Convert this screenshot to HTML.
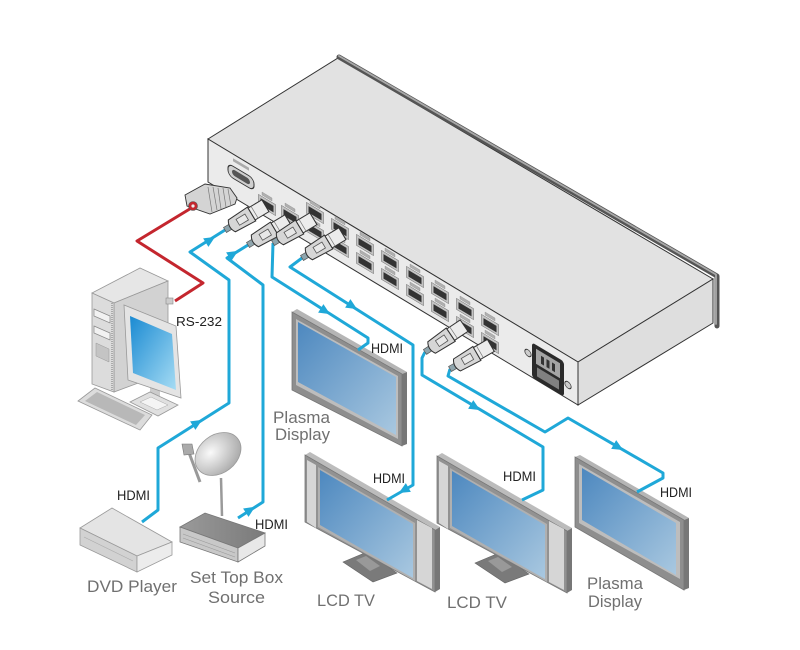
<!DOCTYPE html>
<html><head><meta charset="utf-8"><style>
html,body{margin:0;padding:0;background:#fff;}
svg{display:block;}
text{font-family:"Liberation Sans",sans-serif;}
</style></head><body>
<svg width="800" height="650" viewBox="0 0 800 650" xmlns="http://www.w3.org/2000/svg">
<defs>
<linearGradient id="scr" x1="0" y1="0" x2="1" y2="1"><stop offset="0" stop-color="#4d88bf"/><stop offset="1" stop-color="#a9c8e0"/></linearGradient>
<linearGradient id="mon" x1="0" y1="0" x2="1" y2="1"><stop offset="0" stop-color="#1a8ad2"/><stop offset="1" stop-color="#a6dcf4"/></linearGradient>
<radialGradient id="dish" cx="0.4" cy="0.35" r="0.7"><stop offset="0" stop-color="#fafafa"/><stop offset="1" stop-color="#a8a8a8"/></radialGradient>
<linearGradient id="stb" x1="0" y1="0" x2="1" y2="0"><stop offset="0" stop-color="#9a9a9a"/><stop offset="1" stop-color="#7a7a7a"/></linearGradient>
<g id="port"><rect x="-8.5" y="-5.5" width="17" height="11" fill="#c4c4c4" stroke="#666" stroke-width="0.5"/><rect x="-6.5" y="-3" width="13" height="6.5" fill="#333"/><rect x="-5" y="-10" width="10" height="3" fill="#b0b0b0" stroke="#888" stroke-width="0.3"/></g>
<g id="plug">
<rect x="0" y="-2.5" width="8" height="5" fill="#8fa5ad" stroke="#555" stroke-width="0.6"/>
<path d="M7,-6 L27,-7 L27,7 L7,6 Q3,0 7,-6Z" fill="#d6d6d6" stroke="#333" stroke-width="0.9"/>
<rect x="13" y="-3" width="9" height="6" fill="#e8e8e8" stroke="#555" stroke-width="0.7"/>
<rect x="27" y="-6" width="14" height="12" fill="#ececec" stroke="#333" stroke-width="0.9"/>
<line x1="30" y1="-6" x2="30" y2="6" stroke="#777" stroke-width="0.6"/>
</g>
<polygon id="arr" points="6,0 -5,-5 -5,5" fill="#1fa8d8"/>
</defs>

<!-- Main box -->
<polygon points="208,139 338,58 713,279 578,362" fill="#e2e2e2" stroke="#333" stroke-width="1"/>
<polygon points="208,139 578,362 578,405 208,182" fill="#ebebeb" stroke="#333" stroke-width="1"/>
<polygon points="578,362 713,279 713,323 578,405" fill="#dedede" stroke="#333" stroke-width="1"/>
<polyline points="339,57 717,276 717,326" fill="none" stroke="#555" stroke-width="5" stroke-linecap="round" stroke-linejoin="round"/>
<polyline points="339,56 716,274.5 716,324" fill="none" stroke="#a8a8a8" stroke-width="1.8" stroke-linecap="round" stroke-linejoin="round"/>

<!-- panel DB9 -->
<g transform="translate(241,177) skewY(31)">
<rect x="-13" y="-6" width="26" height="12" rx="5" fill="#cfcfcf" stroke="#333" stroke-width="1"/>
<rect x="-9" y="-3" width="18" height="6" rx="3" fill="#555"/>
<rect x="-8" y="-14" width="16" height="3" fill="#aaa"/>
</g>

<!-- ports -->
<use href="#port" transform="translate(267,205) skewY(31)"/>
<use href="#port" transform="translate(290,216) skewY(31)"/>
<use href="#port" transform="translate(315,213) skewY(31)"/><use href="#port" transform="translate(315,231) skewY(31)"/>
<use href="#port" transform="translate(340,229) skewY(31)"/><use href="#port" transform="translate(340,247) skewY(31)"/>
<use href="#port" transform="translate(365,245) skewY(31)"/><use href="#port" transform="translate(365,263) skewY(31)"/>
<use href="#port" transform="translate(390,261) skewY(31)"/><use href="#port" transform="translate(390,279) skewY(31)"/>
<use href="#port" transform="translate(415,277) skewY(31)"/><use href="#port" transform="translate(415,295) skewY(31)"/>
<use href="#port" transform="translate(440,293) skewY(31)"/><use href="#port" transform="translate(440,311) skewY(31)"/>
<use href="#port" transform="translate(465,309) skewY(31)"/><use href="#port" transform="translate(465,327) skewY(31)"/>
<use href="#port" transform="translate(490,325) skewY(31)"/><use href="#port" transform="translate(490,343) skewY(31)"/>

<!-- power socket -->
<g transform="translate(548,369) skewY(31)">
<circle cx="-20" cy="-4" r="3.2" fill="#ccc" stroke="#333" stroke-width="0.8"/>
<circle cx="20" cy="4" r="3.2" fill="#ccc" stroke="#333" stroke-width="0.8"/>
<rect x="-16" y="-17" width="32" height="35" rx="3" fill="#2a2a2a"/>
<rect x="-12" y="-13" width="24" height="15" fill="#a5a5a5"/>
<rect x="-7" y="-9" width="3" height="8" fill="#333"/><rect x="-1.5" y="-9" width="3" height="8" fill="#333"/><rect x="4" y="-9" width="3" height="8" fill="#333"/>
<rect x="-11" y="5" width="22" height="9" fill="#808080"/>
</g>

<!-- Displays -->
<!-- Plasma 1 -->
<polygon points="292,312 297,309 407,372 402,374" fill="#b5b5b5"/>
<polygon points="402,374 407,372 407,444 402,446" fill="#777"/>
<polygon points="292,312 402,374 402,446 292,390" fill="#8e8e8e" stroke="#777" stroke-width="0.8"/>
<polygon points="296,319 398,376 398,439 296,385" fill="#bdbdbd"/>
<polygon points="298,322 396,377 396,435 298,382" fill="url(#scr)"/>
<!-- LCD TV 1 -->
<g>
<polygon points="343,562 367,552 397,573 373,582" fill="#7a7a7a" stroke="#666" stroke-width="0.6"/>
<polygon points="356,560 366,556 380,566 370,571" fill="#999"/>
<polygon points="305,455 310,452 440,527 435,530" fill="#bcbcbc"/>
<polygon points="435,530 440,527 440,589 435,592" fill="#777"/>
<polygon points="305,455 435,530 435,592 305,522" fill="#929292" stroke="#777" stroke-width="0.8"/>
<polygon points="307,460 316,465 316,528 307,522" fill="#d6d6d6"/>
<polygon points="417,520 432,528 432,589 417,581" fill="#d6d6d6"/>
<polygon points="318,467 415,523 415,581 318,527" fill="#b0b0b0"/>
<polygon points="320,470 413,524 413,578 320,525" fill="url(#scr)"/>
</g>
<!-- LCD TV 2 -->
<g transform="translate(132,1)">
<polygon points="343,562 367,552 397,573 373,582" fill="#7a7a7a" stroke="#666" stroke-width="0.6"/>
<polygon points="356,560 366,556 380,566 370,571" fill="#999"/>
<polygon points="305,455 310,452 440,527 435,530" fill="#bcbcbc"/>
<polygon points="435,530 440,527 440,589 435,592" fill="#777"/>
<polygon points="305,455 435,530 435,592 305,522" fill="#929292" stroke="#777" stroke-width="0.8"/>
<polygon points="307,460 316,465 316,528 307,522" fill="#d6d6d6"/>
<polygon points="417,520 432,528 432,589 417,581" fill="#d6d6d6"/>
<polygon points="318,467 415,523 415,581 318,527" fill="#b0b0b0"/>
<polygon points="320,470 413,524 413,578 320,525" fill="url(#scr)"/>
</g>
<!-- Plasma 2 -->
<polygon points="575,457 580,455 689,518 684,520" fill="#b5b5b5"/>
<polygon points="684,520 689,518 689,588 684,590" fill="#777"/>
<polygon points="575,457 684,520 684,590 575,527" fill="#8e8e8e" stroke="#777" stroke-width="0.8"/>
<polygon points="579,464 680,522 680,579 579,523" fill="#bdbdbd"/>
<polygon points="582,468 676,523 676,575 582,520" fill="url(#scr)"/>

<!-- Computer -->
<polygon points="92,293 140,268 168,281 114,303" fill="#e6e6e6" stroke="#999" stroke-width="0.8"/>
<polygon points="114,303 168,281 168,372 114,392" fill="#d2d2d2" stroke="#999" stroke-width="0.8"/>
<polygon points="92,293 114,303 114,392 92,384" fill="#dcdcdc" stroke="#999" stroke-width="0.8"/>
<polygon points="94,309 110,316 110,323 94,316" fill="#f2f2f2" stroke="#888" stroke-width="0.7"/>
<polygon points="94,326 110,333 110,340 94,333" fill="#f2f2f2" stroke="#888" stroke-width="0.7"/>
<polygon points="96,343 109,349 109,362 96,356" fill="#c4c4c4" stroke="#999" stroke-width="0.5"/>
<line x1="112" y1="303" x2="112" y2="391" stroke="#aaa" stroke-width="2" stroke-dasharray="1 1"/>
<polygon points="78,401 95,388 152,415 140,430" fill="#dcdcdc" stroke="#999" stroke-width="0.8"/>
<polygon points="85,401 97,392 145,415 136,425" fill="#b8b8b8"/>
<polygon points="150,386 160,390 160,400 150,397" fill="#ccc"/>
<polygon points="130,402 150,392 178,405 158,416" fill="#e0e0e0" stroke="#999" stroke-width="0.8"/>
<polygon points="140,402 151,397 168,405 157,410" fill="#f4f4f4" stroke="#aaa" stroke-width="0.5"/>
<polygon points="124,305 176,326 181,398 128,380" fill="#e4e4e4" stroke="#999" stroke-width="0.8"/>
<polygon points="130,316 172,334 176,390 133,373" fill="url(#mon)"/>
<rect x="166" y="298" width="7" height="6" fill="#ccc" stroke="#888" stroke-width="0.6"/>

<!-- DVD player -->
<polygon points="80,528 112,508 172,542 137,556" fill="#e4e4e4" stroke="#9a9a9a" stroke-width="0.8"/>
<polygon points="80,528 137,556 137,572 80,545" fill="#d2d2d2" stroke="#9a9a9a" stroke-width="0.8"/>
<polygon points="137,556 172,542 172,555 137,572" fill="#ececec" stroke="#9a9a9a" stroke-width="0.8"/>
<line x1="84" y1="537" x2="133" y2="561" stroke="#aaa" stroke-width="0.6"/>

<!-- Dish -->
<line x1="221" y1="478" x2="222" y2="516" stroke="#9a9a9a" stroke-width="2.5"/>
<line x1="200" y1="482" x2="188" y2="450" stroke="#999" stroke-width="3"/>
<polygon points="182,444 192,444 194,454 184,455" fill="#aaa" stroke="#777" stroke-width="0.6"/>
<ellipse cx="218" cy="454" rx="25" ry="19" transform="rotate(-38 218 454)" fill="url(#dish)" stroke="#999" stroke-width="0.8"/>

<!-- STB -->
<polygon points="180,527 205,513 265,533 238,548" fill="url(#stb)" stroke="#777" stroke-width="0.8"/>
<polygon points="180,527 238,548 238,562 180,542" fill="#c8c8c8" stroke="#777" stroke-width="0.8"/>
<polygon points="238,548 265,533 265,546 238,562" fill="#e8e8e8" stroke="#777" stroke-width="0.8"/>
<line x1="183" y1="534" x2="235" y2="553" stroke="#999" stroke-width="0.6"/>
<line x1="183" y1="538" x2="235" y2="557" stroke="#999" stroke-width="0.6"/>

<!-- Red RS-232 cable -->
<polyline points="193,207 137,241 203,283 175,301" fill="none" stroke="#c4262e" stroke-width="3" stroke-linejoin="round"/>

<!-- Blue cables -->
<g fill="none" stroke="#1fa8d8" stroke-width="3" stroke-linejoin="round">
<polyline points="225,230 190,252 229,280 229,403 158,448 158,510 142,522"/>
<polyline points="248,245 227,258 263,285 263,502 238,518"/>
<polyline points="273,243 272,277 368,338 368,343 358,350"/>
<polyline points="302,258 290,267 413,345 413,485 387,500"/>
<polyline points="425,352 422,358 422,375 543,447 543,490 522,500"/>
<polyline points="450,369 448,376 545,432 568,418 663,473 663,478 637,492"/>
</g>
<use href="#arr" transform="translate(210,240) rotate(-32)"/>
<use href="#arr" transform="translate(233,254) rotate(-32)"/>
<use href="#arr" transform="translate(197,423) rotate(-32)"/>
<use href="#arr" transform="translate(250,510) rotate(-33)"/>
<use href="#arr" transform="translate(325,311) rotate(32)"/>
<use href="#arr" transform="translate(352,306) rotate(32)"/>
<use href="#arr" transform="translate(404,490) rotate(150)"/>
<use href="#arr" transform="translate(475,407) rotate(31)"/>
<use href="#arr" transform="translate(618,447) rotate(30)"/>

<!-- DB9 plug -->
<polygon points="185,195 205,184 230,188 237,198 235,204 210,214 187,206" fill="#d4d4d4" stroke="#333" stroke-width="0.9"/>
<g stroke="#777" stroke-width="0.7">
<line x1="208" y1="187" x2="212" y2="212"/><line x1="213" y1="187" x2="217" y2="210"/><line x1="218" y1="188" x2="221" y2="209"/><line x1="223" y1="188" x2="226" y2="207"/><line x1="228" y1="189" x2="231" y2="206"/>
</g>
<circle cx="193" cy="206" r="4.5" fill="#c4262e" stroke="#555" stroke-width="0.6"/>
<circle cx="193" cy="206" r="1.6" fill="#eee"/>

<!-- HDMI plugs -->
<use href="#plug" transform="translate(225,230) rotate(-31) scale(1.15)"/>
<use href="#plug" transform="translate(248,245) rotate(-31) scale(1.15)"/>
<use href="#plug" transform="translate(273,243) rotate(-31) scale(1.15)"/>
<use href="#plug" transform="translate(302,258) rotate(-31) scale(1.15)"/>
<use href="#plug" transform="translate(425,352) rotate(-34) scale(1.15)"/>
<use href="#plug" transform="translate(450,369) rotate(-30) scale(1.15)"/>

<!-- Labels -->
<g fill="#222" font-size="13.5">
<text x="176" y="326" textLength="46" lengthAdjust="spacingAndGlyphs" font-size="13">RS-232</text>
<text x="371" y="353" textLength="32" lengthAdjust="spacingAndGlyphs">HDMI</text>
<text x="373" y="483" textLength="32" lengthAdjust="spacingAndGlyphs">HDMI</text>
<text x="503" y="481" textLength="33" lengthAdjust="spacingAndGlyphs">HDMI</text>
<text x="660" y="497" textLength="32" lengthAdjust="spacingAndGlyphs">HDMI</text>
<text x="117" y="500" textLength="33" lengthAdjust="spacingAndGlyphs">HDMI</text>
<text x="255" y="529" textLength="33" lengthAdjust="spacingAndGlyphs">HDMI</text>
</g>
<g fill="#707070" font-size="16.5">
<text x="273" y="423" textLength="57" lengthAdjust="spacingAndGlyphs">Plasma</text>
<text x="275" y="440" textLength="55" lengthAdjust="spacingAndGlyphs">Display</text>
<text x="587" y="589" textLength="56" lengthAdjust="spacingAndGlyphs">Plasma</text>
<text x="588" y="607" textLength="54" lengthAdjust="spacingAndGlyphs">Display</text>
<text x="317" y="606" textLength="58" lengthAdjust="spacingAndGlyphs">LCD TV</text>
<text x="447" y="608" textLength="60" lengthAdjust="spacingAndGlyphs">LCD TV</text>
<text x="87" y="592" textLength="90" lengthAdjust="spacingAndGlyphs">DVD Player</text>
<text x="190" y="583" textLength="93" lengthAdjust="spacingAndGlyphs">Set Top Box</text>
<text x="208" y="603" textLength="57" lengthAdjust="spacingAndGlyphs">Source</text>
</g>
</svg>
</body></html>
